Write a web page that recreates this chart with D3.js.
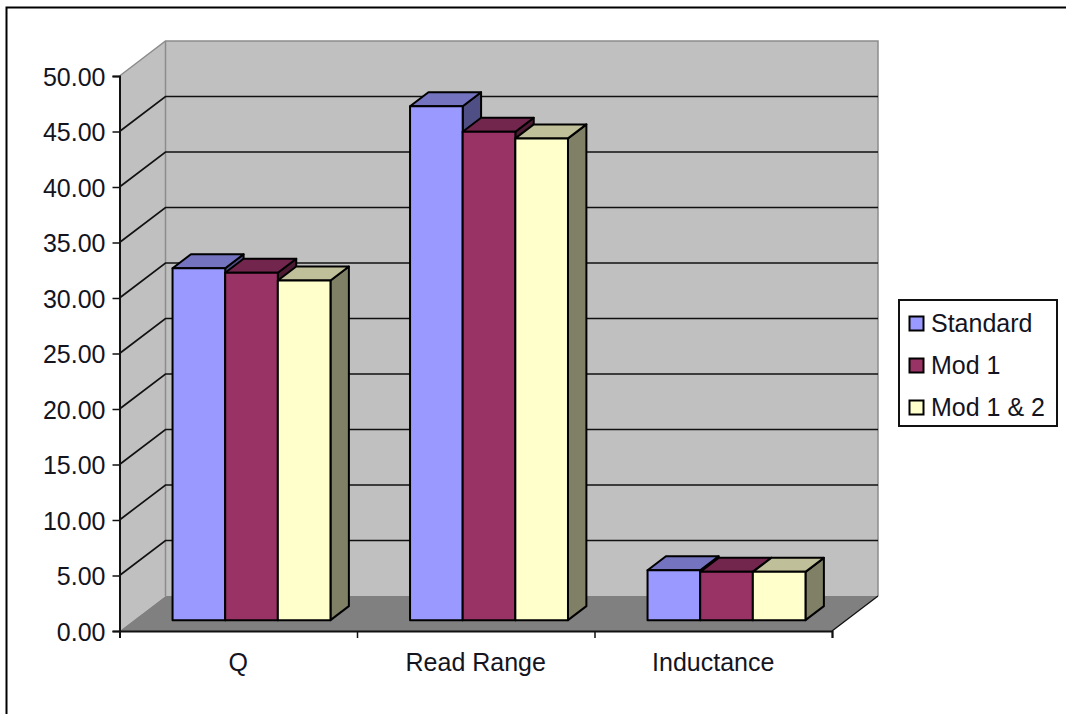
<!DOCTYPE html>
<html>
<head>
<meta charset="utf-8">
<script src="https://cdn.jsdelivr.net/npm/d3@7"></script>
<style>
html,body{margin:0;padding:0;background:#fff;}
svg{display:block;}
text{font-family:"Liberation Sans",Arial,sans-serif;fill:#14141e;}
</style>
</head>
<body>
<svg id="chart" width="1066" height="714"></svg>
<script>
// Chart values
const categories = ["Q", "Read Range", "Inductance"];
const seriesNames = ["Standard", "Mod 1", "Mod 1 & 2"];
const standardValues = [31.7, 46.3, 4.5];
const mod1Values = [31.3, 44.0, 4.35];
const mod12Values = [30.6, 43.4, 4.35];
const yTicks = [0, 5, 10, 15, 20, 25, 30, 35, 40, 45, 50];

const seriesValues = [standardValues, mod1Values, mod12Values];
const faceColors = [
  {front: "#9999ff", top: "#7373bf", side: "#4f4f85"},
  {front: "#993366", top: "#73264d", side: "#4d1a33"},
  {front: "#ffffcc", top: "#bfbf99", side: "#808066"}
];
const labelSize = 25;

const svg = d3.select("#chart");

// Front-plane scales
const plotLeft = 119.5, plotRight = 832, plotBottom = 631, plotTop = 76;
const y = d3.scaleLinear().domain([0, 50]).range([plotBottom, plotTop]);
const x = d3.scaleBand().domain(categories).range([plotLeft, plotRight])
  .paddingInner(0.335).paddingOuter(0.1675).align(0.4875);
const xInner = d3.scaleBand().domain(d3.range(seriesNames.length)).range([0, x.bandwidth()]);

// Oblique projection: depth 0 is the front of the box, depth 1 the back wall
const depthX = d3.scaleLinear().domain([0, 1]).range([0, 46]);
const depthY = d3.scaleLinear().domain([0, 1]).range([0, -35]);
const project = (px, py, d) => [px + depthX(d), py + depthY(d)];
const barFront = 0.31, barBack = 0.71;
const poly = pts => "M" + pts.map(p => p.join(",")).join("L") + "Z";

// Frame around the chart area
svg.append("path").attr("d", "M6.5,714V7.5H1066").attr("fill", "none").attr("stroke", "#000").attr("stroke-width", 2);

// Walls and floor
const backLeft = project(plotLeft, plotTop, 1), backRight = project(plotRight, plotTop, 1);
const floorLeft = project(plotLeft, plotBottom, 1), floorRight = project(plotRight, plotBottom, 1);
svg.append("path").attr("d", poly([[plotLeft, plotTop], backLeft, floorLeft, [plotLeft, plotBottom]]))
  .attr("fill", "#c0c0c0");
svg.append("path").attr("d", poly([backLeft, backRight, floorRight, floorLeft]))
  .attr("fill", "#c0c0c0");
svg.append("path").attr("d", poly([[plotLeft, plotBottom], floorLeft, floorRight, [plotRight, plotBottom]]))
  .attr("fill", "#808080");

// Wall edges
svg.append("path")
  .attr("d", d3.line()([[plotLeft, plotTop], backLeft, backRight, floorRight]))
  .attr("fill", "none").attr("stroke", "#8c8c8c").attr("stroke-width", 1.5);
svg.append("line")
  .attr("x1", backLeft[0]).attr("y1", backLeft[1]).attr("x2", floorLeft[0]).attr("y2", floorLeft[1])
  .attr("stroke", "#8c8c8c").attr("stroke-width", 1.5);
svg.append("line")
  .attr("x1", plotRight).attr("y1", plotBottom).attr("x2", floorRight[0]).attr("y2", floorRight[1])
  .attr("stroke", "#111").attr("stroke-width", 1.3);

// Gridlines run along the side wall and across the back wall
svg.append("g").selectAll("path")
  .data(yTicks.filter(t => t > 0 && t < 50))
  .join("path")
  .attr("d", t => d3.line()([[plotLeft, y(t)], project(plotLeft, y(t), 1), project(plotRight, y(t), 1)]))
  .attr("fill", "none").attr("stroke", "#111").attr("stroke-width", 1.7);

// Bars: each one is a front face, a top face and a right side face
const barData = categories.flatMap((c, ci) =>
  seriesValues.map((vals, si) => ({category: c, series: si, value: vals[ci]})));
const bars = svg.append("g").selectAll("g").data(barData).join("g")
  .attr("stroke", "#000").attr("stroke-width", 2).attr("stroke-linejoin", "round");
const corners = d => {
  const x0 = x(d.category) + xInner(d.series), x1 = x0 + xInner.bandwidth();
  const yb = y(0), yt = y(d.value);
  return {
    fbl: project(x0, yb, barFront), fbr: project(x1, yb, barFront),
    ftl: project(x0, yt, barFront), ftr: project(x1, yt, barFront),
    bbr: project(x1, yb, barBack), btl: project(x0, yt, barBack), btr: project(x1, yt, barBack)
  };
};
bars.append("path").attr("fill", d => faceColors[d.series].side)
  .attr("d", d => { const c = corners(d); return poly([c.ftr, c.btr, c.bbr, c.fbr]); });
bars.append("path").attr("fill", d => faceColors[d.series].top)
  .attr("d", d => { const c = corners(d); return poly([c.ftl, c.btl, c.btr, c.ftr]); });
bars.append("path").attr("fill", d => faceColors[d.series].front)
  .attr("d", d => { const c = corners(d); return poly([c.ftl, c.ftr, c.fbr, c.fbl]); });

// Axes
const yAxis = d3.axisLeft(y).tickValues(yTicks).tickFormat(d3.format(".2f")).tickSize(7).tickPadding(7);
const gy = svg.append("g").attr("transform", `translate(${plotLeft},0)`).call(yAxis);
gy.selectAll("text").attr("font-size", labelSize).attr("dy", "0.36em");

const xEdges = d3.scaleLinear().domain([0, categories.length]).range([plotLeft, plotRight]);
const xTickAxis = d3.axisBottom(xEdges).tickValues(d3.range(categories.length + 1)).tickFormat("").tickSize(7);
svg.append("g").attr("transform", `translate(0,${plotBottom})`).call(xTickAxis);
const xLabelScale = d3.scalePoint().domain(categories).range([xEdges(0.5), xEdges(2.5)]);
svg.append("g").selectAll("text").data(categories).join("text")
  .attr("x", d => xLabelScale(d)).attr("y", 671)
  .attr("text-anchor", "middle").attr("font-size", labelSize).text(d => d);
svg.selectAll(".domain").attr("stroke", "#111").attr("stroke-width", 2);
svg.selectAll(".tick line").attr("stroke", "#111").attr("stroke-width", 1.5);

// Legend
const legend = svg.append("g");
legend.append("rect").attr("x", 899).attr("y", 300).attr("width", 158).attr("height", 126)
  .attr("fill", "#fff").attr("stroke", "#111").attr("stroke-width", 2);
const legendY = d3.scalePoint().domain(seriesNames).range([323.5, 407.5]);
const rows = legend.selectAll("g").data(seriesNames).join("g")
  .attr("transform", d => `translate(0,${legendY(d)})`);
rows.append("rect").attr("x", 909.5).attr("y", -7).attr("width", 14).attr("height", 14)
  .attr("fill", (d, i) => faceColors[i].front).attr("stroke", "#000").attr("stroke-width", 2);
rows.append("text").attr("x", 931).attr("y", 8).attr("font-size", labelSize).text(d => d);
</script>
</body>
</html>
